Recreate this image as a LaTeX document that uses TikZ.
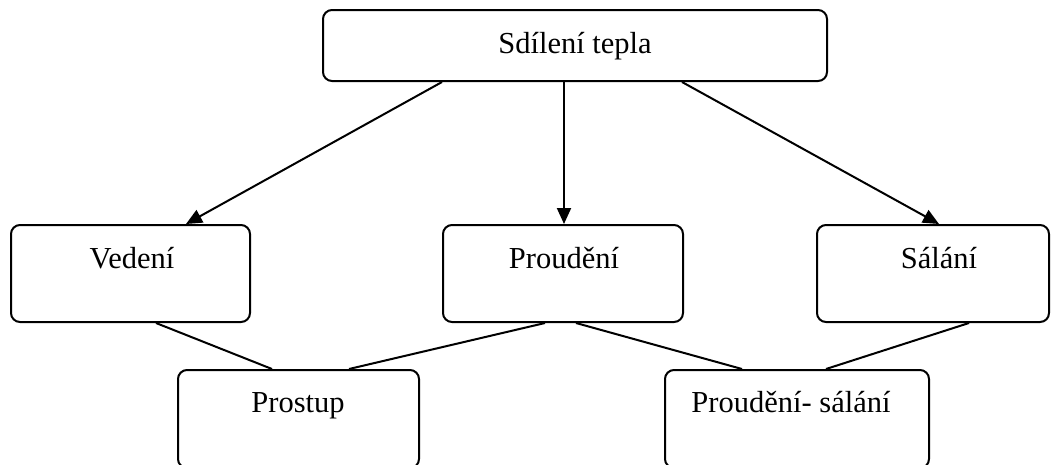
\documentclass[tikz,border=0pt]{standalone}
\usepackage{fontspec}
\setmainfont{Liberation Serif}
\usetikzlibrary{arrows.meta}
\begin{document}
\begin{tikzpicture}[x=1pt,y=-1pt,
  box/.style={draw=black,line width=2pt,rounded corners=9pt,fill=white,inner sep=0pt},
  lbl/.style={anchor=base,inner sep=0pt,font=\fontsize{30.5}{36}\selectfont},
  arr/.style={line width=2pt,-{Triangle[length=16pt,width=14pt]}},
  conn/.style={line width=2pt}]
\useasboundingbox (0,0) rectangle (1051,464);
% boxes
\node[box,minimum width=504pt,minimum height=71pt] (top) at (575,45.5) {};
\node[box,minimum width=239pt,minimum height=97pt] (ved) at (130.5,273.5) {};
\node[box,minimum width=240pt,minimum height=97pt] (pro) at (563,273.5) {};
\node[box,minimum width=232pt,minimum height=97pt] (sal) at (933,273.5) {};
\node[box,minimum width=241pt,minimum height=98pt] (pst) at (298.5,419) {};
\node[box,minimum width=264pt,minimum height=98pt] (ps) at (797,419) {};
% labels
\node[lbl] (ttop) at (575,53) {Sdílení tepla};
\node[lbl] (tved) at (132,268) {Vedení};
\node[lbl] (tpro) at (564,268) {Proudění};
\node[lbl] (tsal) at (939,268) {Sálání};
\node[lbl] (tpst) at (298,412) {Prostup};
\node[lbl] (tps) at (791,412) {Proudění- sálání};
% arrows
\draw[arr] ([xshift=120pt]top.south west) -- ([xshift=176pt]ved.north west);
\draw[arr] ([xshift=242pt]top.south west) -- ([xshift=122pt]pro.north west);
\draw[arr] ([xshift=360pt]top.south west) -- ([xshift=123pt]sal.north west);
% lines
\draw[conn] ([xshift=146pt]ved.south west) -- ([xshift=95pt]pst.north west);
\draw[conn] ([xshift=103pt]pro.south west) -- ([xshift=172pt]pst.north west);
\draw[conn] ([xshift=134pt]pro.south west) -- ([xshift=78pt]ps.north west);
\draw[conn] ([xshift=153pt]sal.south west) -- ([xshift=162pt]ps.north west);
\end{tikzpicture}
\end{document}
